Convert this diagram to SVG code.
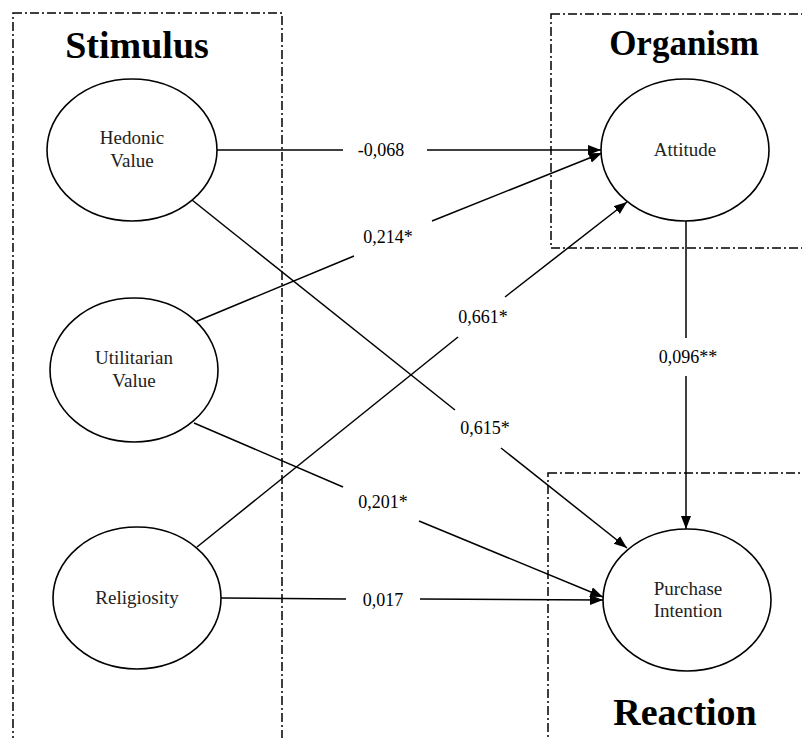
<svg xmlns="http://www.w3.org/2000/svg" width="802" height="738" viewBox="0 0 802 738">
<style>
.box{fill:none;stroke:#000;stroke-width:1.5;stroke-dasharray:9 3 2 3}
.node{fill:#fff;stroke:#000;stroke-width:1.6}
.ln{fill:none;stroke:#000;stroke-width:1.5}
.lbl{font-family:"Liberation Serif","Times New Roman",serif;font-size:18px;fill:#000;text-anchor:middle}
.nt{font-family:"Liberation Serif","Times New Roman",serif;font-size:19px;fill:#222;text-anchor:middle}
.title{font-family:"Liberation Serif","Times New Roman",serif;font-weight:bold;fill:#000;text-anchor:middle}
</style>
<defs>
<marker id="arr" markerUnits="userSpaceOnUse" markerWidth="14" markerHeight="12" refX="13" refY="5" orient="auto">
<path d="M0,0 L13,5 L0,10 Z" fill="#000"/>
</marker>
</defs>
<rect width="802" height="738" fill="#fff"/>
<g id="frames">
<rect class="box" x="13" y="13" width="269" height="760"/>
<rect class="box" x="551" y="14" width="270" height="234"/>
<rect class="box" x="548" y="473" width="273" height="290"/>
<text class="title" x="137" y="58" font-size="38">Stimulus</text>
<text class="title" x="684" y="55" font-size="35">Organism</text>
<text class="title" x="685" y="725" font-size="38">Reaction</text>
</g>
<g id="connectors">
<line class="ln" x1="216" y1="150" x2="343" y2="150"/>
<line class="ln" x1="427" y1="150" x2="601" y2="150" marker-end="url(#arr)"/>
<text class="lbl" x="381" y="156">-0,068</text>
<line class="ln" x1="195" y1="322" x2="354" y2="256"/>
<line class="ln" x1="432" y1="221" x2="602" y2="153" marker-end="url(#arr)"/>
<text class="lbl" x="388" y="243">0,214*</text>
<line class="ln" x1="197" y1="547" x2="458" y2="337"/>
<line class="ln" x1="505" y1="297" x2="627" y2="202" marker-end="url(#arr)"/>
<text class="lbl" x="483" y="323">0,661*</text>
<line class="ln" x1="192" y1="200" x2="455" y2="410"/>
<line class="ln" x1="501" y1="448" x2="627" y2="548" marker-end="url(#arr)"/>
<text class="lbl" x="485" y="434">0,615*</text>
<line class="ln" x1="194" y1="423" x2="343" y2="487"/>
<line class="ln" x1="419" y1="521" x2="603" y2="597" marker-end="url(#arr)"/>
<text class="lbl" x="383" y="508">0,201*</text>
<line class="ln" x1="221" y1="598" x2="346" y2="599"/>
<line class="ln" x1="420" y1="599" x2="603" y2="600" marker-end="url(#arr)"/>
<text class="lbl" x="383" y="606">0,017</text>
<line class="ln" x1="686" y1="221" x2="686" y2="338"/>
<line class="ln" x1="686" y1="376" x2="686" y2="529" marker-end="url(#arr)"/>
<text class="lbl" x="688" y="363">0,096**</text>
</g>
<g id="hedonic">
<ellipse class="node" cx="132" cy="150" rx="85" ry="71"/>
<text class="nt" x="132" y="144">Hedonic</text>
<text class="nt" x="132" y="167">Value</text>
</g>
<g id="utilitarian">
<ellipse class="node" cx="134" cy="370" rx="84" ry="72"/>
<text class="nt" x="134" y="364">Utilitarian</text>
<text class="nt" x="134" y="387">Value</text>
</g>
<g id="religiosity">
<ellipse class="node" cx="137" cy="598" rx="84" ry="71"/>
<text class="nt" x="137" y="604">Religiosity</text>
</g>
<g id="attitude">
<ellipse class="node" cx="685" cy="150" rx="84" ry="71"/>
<text class="nt" x="685" y="156">Attitude</text>
</g>
<g id="purchase">
<ellipse class="node" cx="687" cy="600" rx="84" ry="71"/>
<text class="nt" x="688" y="595">Purchase</text>
<text class="nt" x="688" y="617">Intention</text>
</g>
</svg>
